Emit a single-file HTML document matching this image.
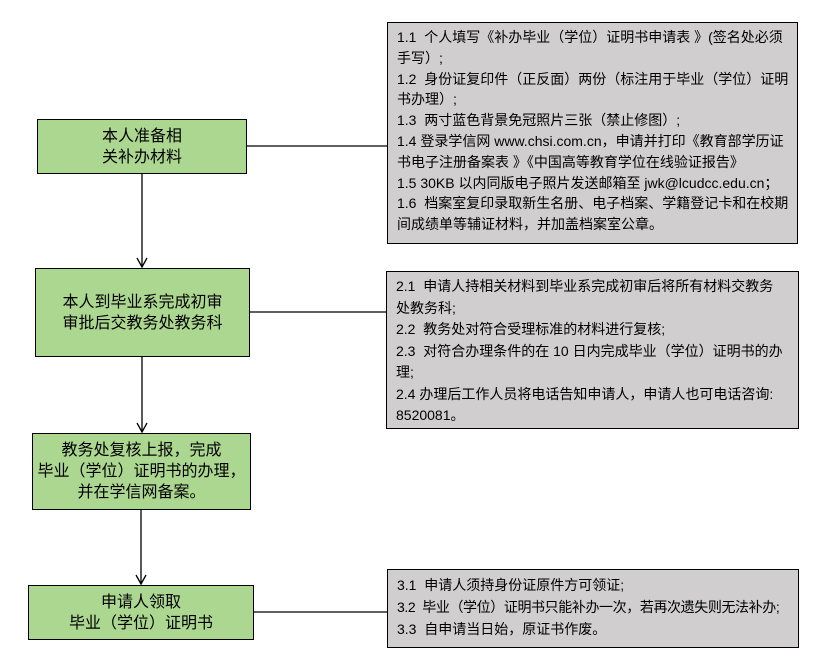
<!DOCTYPE html>
<html><head><meta charset="utf-8"><style>
body{margin:0;width:834px;height:662px;background:#fff;position:relative;overflow:hidden;font-family:"Liberation Sans","Noto Sans CJK SC",sans-serif;}
.g{position:absolute;background:#acd790;border:1.3px solid #000;box-sizing:border-box;display:flex;align-items:center;justify-content:center;text-align:center;font-size:16px;line-height:21px;color:#000;}
.r{position:absolute;background:#d0cecf;border:1.3px solid #000;box-sizing:border-box;padding:4px 0 0 9px;font-size:14px;color:#000;}
.r div{white-space:nowrap;}
</style></head><body>
<svg width="834" height="662" style="position:absolute;left:0;top:0">
<g stroke="#000" stroke-width="1.3" fill="none">
<line x1="246" y1="146" x2="387" y2="146"/>
<line x1="249" y1="312" x2="386" y2="312"/>
<line x1="253" y1="612" x2="387" y2="612"/>
<line x1="142" y1="173" x2="142" y2="267"/>
<line x1="142" y1="356" x2="142" y2="432"/>
<line x1="141" y1="509" x2="141" y2="584"/>
<polyline points="137,258 142,267 147,258"/>
<polyline points="137,423 142,432 147,423"/>
<polyline points="136,575 141,584 146,575"/>
</g></svg>
<div class="g" style="left:37px;top:119px;width:210px;height:55px">本人准备相<br>关补办材料</div>
<div class="g" style="left:35px;top:268px;width:215px;height:89px">本人到毕业系完成初审<br>审批后交教务处教务科</div>
<div class="g" style="left:32px;top:433px;width:219px;height:77px">教务处复核上报，完成<br>毕业（学位）证明书的办理，<br>并在学信网备案。</div>
<div class="g" style="left:28px;top:585px;width:226px;height:55px">申请人领取<br>毕业（学位）证明书</div>
<div class="r" style="left:387px;top:22px;width:411px;height:222px;line-height:20.8px">
<div>1.1&nbsp; 个人填写《补办毕业（学位）证明书申请表 》(签名处必须</div>
<div>手写）;</div>
<div>1.2&nbsp; 身份证复印件（正反面）两份（标注用于毕业（学位）证明</div>
<div>书办理）;</div>
<div>1.3&nbsp; 两寸蓝色背景免冠照片三张（禁止修图）;</div>
<div>1.4 登录学信网 www.chsi.com.cn，申请并打印《教育部学历证</div>
<div>书电子注册备案表 》《中国高等教育学位在线验证报告》</div>
<div>1.5 30KB 以内同版电子照片发送邮箱至 jwk@lcudcc.edu.cn；</div>
<div>1.6&nbsp; 档案室复印录取新生名册、电子档案、学籍登记卡和在校期</div>
<div>间成绩单等辅证材料，并加盖档案室公章。</div>
</div>
<div class="r" style="left:386px;top:271px;width:413px;height:158px;line-height:21.5px">
<div>2.1&nbsp; 申请人持相关材料到毕业系完成初审后将所有材料交教务</div>
<div>处教务科;</div>
<div>2.2&nbsp; 教务处对符合受理标准的材料进行复核;</div>
<div>2.3&nbsp; 对符合办理条件的在 10 日内完成毕业（学位）证明书的办</div>
<div>理;</div>
<div>2.4 办理后工作人员将电话告知申请人，申请人也可电话咨询:</div>
<div>8520081。</div>
</div>
<div class="r" style="left:387px;top:569px;width:412px;height:79px;line-height:22px">
<div>3.1&nbsp; 申请人须持身份证原件方可领证;</div>
<div style="letter-spacing:-0.4px">3.2&nbsp; 毕业（学位）证明书只能补办一次，若再次遗失则无法补办;</div>
<div>3.3&nbsp; 自申请当日始，原证书作废。</div>
</div>
</body></html>
